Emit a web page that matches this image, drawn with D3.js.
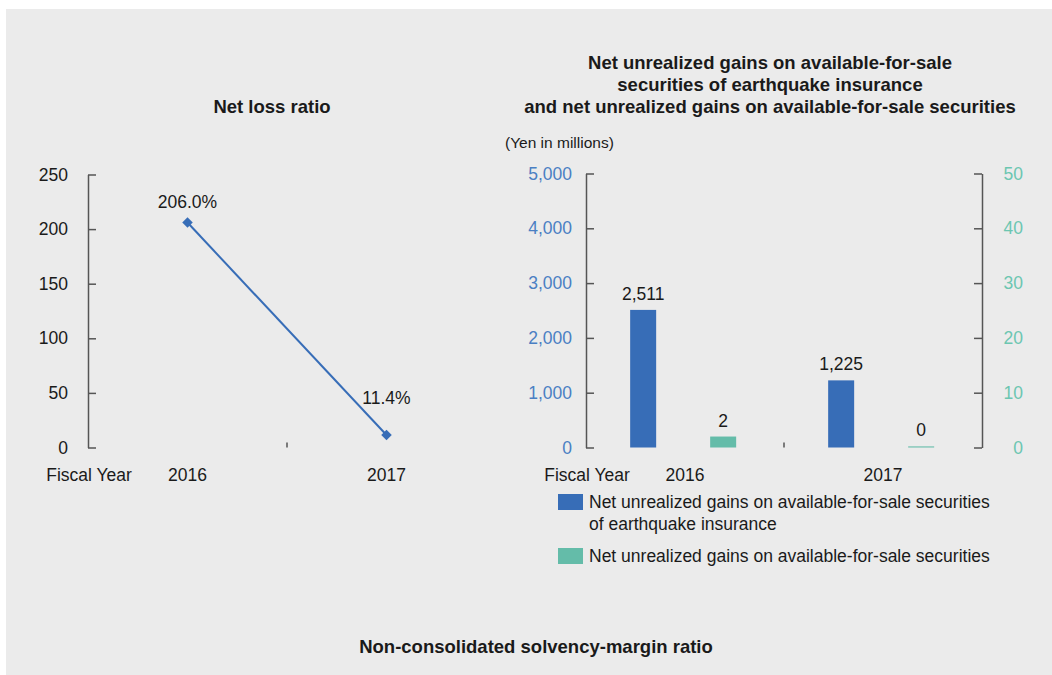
<!DOCTYPE html>
<html>
<head>
<meta charset="utf-8">
<script src="https://cdn.jsdelivr.net/npm/d3@7"></script>
<style>
  html, body { margin: 0; padding: 0; background: #ffffff; }
  svg { display: block; }
  text { font-family: "Liberation Sans", Arial, sans-serif; }
</style>
</head>
<body>
<svg id="chart" width="1052" height="675"></svg>
<script>
// ---------- DATA ----------
const years = ["2016", "2017"];
const netLossRatio = [206.0, 11.4];
const lossTicks = [0, 50, 100, 150, 200, 250];

const seriesNames = [
  "Net unrealized gains on available-for-sale securities of earthquake insurance",
  "Net unrealized gains on available-for-sale securities"
];
const quakeGains = [2511, 1225];        // left axis, yen in millions
const afsGains = [2, 0.2];             // right axis
const leftTicks = [0, 1000, 2000, 3000, 4000, 5000];
const rightTicks = [0, 10, 20, 30, 40, 50];

// ---------- SETUP ----------
const svg = d3.select("#chart");
const BLUE = "#376db7", TEAL = "#64bca9", AXIS = "#555555", INK = "#1a1a1a";
const BLUE_TXT = "#4a7fc3", TEAL_TXT = "#6cc6b1";
const FS = 17.5, TFS = 18.5;
const FONT = '"Liberation Sans", Arial, sans-serif';

svg.append("rect").attr("x", 6).attr("y", 9).attr("width", 1046).attr("height", 666)
  .attr("fill", "#ebebeb");

// ---------- LEFT CHART: Net loss ratio ----------
const L = { x0: 88, x1: 486, y0: 447.5, y1: 174.5 };
const lx = d3.scaleBand().domain(years).range([L.x0, L.x1]);
const ly = d3.scaleLinear().domain([0, 250]).range([L.y0, L.y1]);

svg.append("text").attr("x", 272).attr("y", 113).attr("text-anchor", "middle")
  .attr("font-weight", "bold").attr("font-size", TFS).attr("fill", INK).text("Net loss ratio");

const lAxis = svg.append("g").attr("transform", `translate(${L.x0},0)`)
  .call(d3.axisLeft(ly).tickValues(lossTicks).tickSizeInner(-8).tickSizeOuter(0).tickPadding(20));
lAxis.select(".domain").attr("stroke", AXIS).attr("stroke-width", 1.5);
lAxis.selectAll(".tick line").attr("stroke", AXIS).attr("stroke-width", 1.5);
lAxis.selectAll(".tick text").attr("font-size", FS).attr("fill", INK).attr("font-family", FONT);

// category divider tick
svg.append("line").attr("x1", lx("2017")).attr("x2", lx("2017"))
  .attr("y1", L.y0 - 5).attr("y2", L.y0).attr("stroke", AXIS).attr("stroke-width", 1.5);

svg.selectAll(".lyear").data(years).enter().append("text")
  .attr("x", d => lx(d) + lx.bandwidth() / 2).attr("y", 481).attr("text-anchor", "middle")
  .attr("font-size", FS).attr("fill", INK).text(d => d);
svg.append("text").attr("x", 89).attr("y", 481).attr("text-anchor", "middle")
  .attr("font-size", FS).attr("fill", INK).text("Fiscal Year");

const pts = years.map((y, i) => [lx(y) + lx.bandwidth() / 2, ly(netLossRatio[i])]);
svg.append("path").attr("d", d3.line()(pts)).attr("fill", "none")
  .attr("stroke", BLUE).attr("stroke-width", 2);
svg.selectAll(".mk").data(pts).enter().append("path")
  .attr("d", d3.symbol(d3.symbolDiamond2, 70)())
  .attr("transform", d => `translate(${d[0]},${d[1]})`).attr("fill", BLUE);
const labelLift = [15, 31];
svg.selectAll(".lv").data(netLossRatio).enter().append("text")
  .attr("x", (d, i) => pts[i][0]).attr("y", (d, i) => pts[i][1] - labelLift[i])
  .attr("text-anchor", "middle").attr("font-size", FS).attr("fill", INK)
  .text(d => d3.format(".1f")(d) + "%");

// ---------- RIGHT CHART ----------
const R = { x0: 586, x1: 982, y0: 447.5, y1: 173.5 };
const rx = d3.scaleBand().domain(years).range([R.x0, R.x1]);
const sx = d3.scaleBand().domain([0, 1]).range([0, rx.bandwidth()])
  .paddingInner(0.675).paddingOuter(0.575).align(0.48);
const yL = d3.scaleLinear().domain([0, 5000]).range([R.y0, R.y1]);
const yR = d3.scaleLinear().domain([0, 50]).range([R.y0, R.y1]);

const tl = ["Net unrealized gains on available-for-sale",
            "securities of earthquake insurance",
            "and net unrealized gains on available-for-sale securities"];
svg.selectAll(".rt").data(tl).enter().append("text")
  .attr("x", 770).attr("y", (d, i) => 69 + i * 22).attr("text-anchor", "middle")
  .attr("font-weight", "bold").attr("font-size", TFS).attr("fill", INK).text(d => d);

svg.append("text").attr("x", 505).attr("y", 148).attr("font-size", 15.5).attr("fill", INK)
  .text("(Yen in millions)");

const aL = svg.append("g").attr("transform", `translate(${R.x0},0)`)
  .call(d3.axisLeft(yL).tickValues(leftTicks).tickFormat(d3.format(",")).tickSizeInner(-8).tickSizeOuter(0).tickPadding(14));
aL.select(".domain").attr("stroke", AXIS).attr("stroke-width", 1.5);
aL.selectAll(".tick line").attr("stroke", AXIS).attr("stroke-width", 1.5);
aL.selectAll(".tick text").attr("font-size", FS).attr("fill", BLUE_TXT).attr("font-family", FONT);

const aR = svg.append("g").attr("transform", `translate(${R.x1},0)`)
  .call(d3.axisRight(yR).tickValues(rightTicks).tickSizeInner(-8).tickSizeOuter(0).tickPadding(21));
aR.select(".domain").attr("stroke", AXIS).attr("stroke-width", 1.5);
aR.selectAll(".tick line").attr("stroke", AXIS).attr("stroke-width", 1.5);
aR.selectAll(".tick text").attr("font-size", FS).attr("fill", TEAL_TXT)
  .attr("text-anchor", "end").attr("x", 41).attr("font-family", FONT);

svg.append("line").attr("x1", rx("2017")).attr("x2", rx("2017"))
  .attr("y1", R.y0 - 5).attr("y2", R.y0).attr("stroke", AXIS).attr("stroke-width", 1.5);

// bars
const fmt0 = d3.format(",.0f");
years.forEach((yr, i) => {
  const bx0 = rx(yr) + sx(0), bx1 = rx(yr) + sx(1);
  svg.append("rect").attr("x", bx0).attr("width", sx.bandwidth())
    .attr("y", yL(quakeGains[i])).attr("height", R.y0 - yL(quakeGains[i])).attr("fill", BLUE);
  svg.append("text").attr("x", bx0 + sx.bandwidth() / 2).attr("y", yL(quakeGains[i]) - 10)
    .attr("text-anchor", "middle").attr("font-size", FS).attr("fill", INK).text(fmt0(quakeGains[i]));
  svg.append("rect").attr("x", bx1).attr("width", sx.bandwidth())
    .attr("y", yR(afsGains[i])).attr("height", R.y0 - yR(afsGains[i])).attr("fill", TEAL);
  svg.append("text").attr("x", bx1 + sx.bandwidth() / 2).attr("y", yR(afsGains[i]) - 10)
    .attr("text-anchor", "middle").attr("font-size", FS).attr("fill", INK).text(fmt0(afsGains[i]));
});

svg.selectAll(".ryear").data(years).enter().append("text")
  .attr("x", d => rx(d) + rx.bandwidth() / 2).attr("y", 481).attr("text-anchor", "middle")
  .attr("font-size", FS).attr("fill", INK).text(d => d);
svg.append("text").attr("x", 587).attr("y", 481).attr("text-anchor", "middle")
  .attr("font-size", FS).attr("fill", INK).text("Fiscal Year");

// legend
const leg = [
  { c: BLUE, lines: ["Net unrealized gains on available-for-sale securities", "of earthquake insurance"], y: 494 },
  { c: TEAL, lines: ["Net unrealized gains on available-for-sale securities"], y: 548 }
];
leg.forEach(g => {
  svg.append("rect").attr("x", 558).attr("y", g.y).attr("width", 25).attr("height", 16).attr("fill", g.c);
  g.lines.forEach((t, j) => {
    svg.append("text").attr("x", 589).attr("y", g.y + 14 + j * 22).attr("font-size", FS)
      .attr("fill", INK).text(t);
  });
});

svg.append("text").attr("x", 536).attr("y", 653).attr("text-anchor", "middle")
  .attr("font-weight", "bold").attr("font-size", TFS).attr("fill", INK)
  .text("Non-consolidated solvency-margin ratio");
</script>
</body>
</html>
